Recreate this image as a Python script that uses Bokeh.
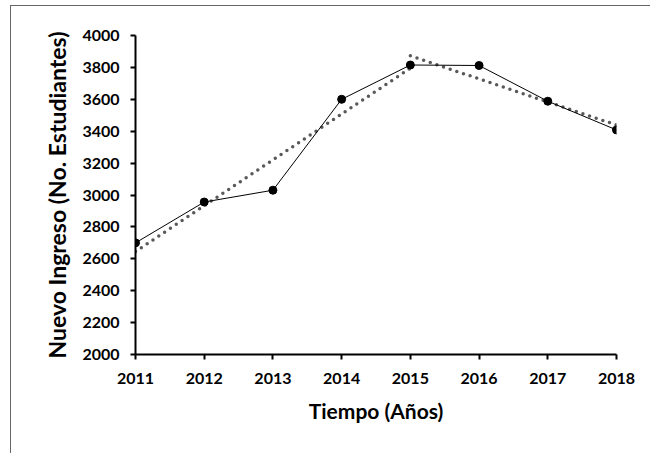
import numpy as np
from bokeh.plotting import figure
from bokeh.models import FixedTicker, ColumnDataSource
from bokeh.embed import file_html
from bokeh.resources import INLINE

years = [2011, 2012, 2013, 2014, 2015, 2016, 2017, 2018]
ingreso = [2700, 2956, 3030, 3600, 3815, 3812, 3588, 3408]
y_ticks = [2000, 2200, 2400, 2600, 2800, 3000, 3200, 3400, 3600, 3800, 4000]

# trend segments: linear fits over 2011-2015 and 2015-2018
seg1_x = years[:5]
seg1_fit = np.polyfit(seg1_x, ingreso[:5], 1)
seg2_x = years[4:]
seg2_fit = np.polyfit(seg2_x, ingreso[4:], 1)
trend1 = ColumnDataSource(dict(x=[seg1_x[0], seg1_x[-1]], y=list(np.polyval(seg1_fit, [seg1_x[0], seg1_x[-1]]))))
trend2 = ColumnDataSource(dict(x=[seg2_x[0], seg2_x[-1]], y=list(np.polyval(seg2_fit, [seg2_x[0], seg2_x[-1]]))))
src = ColumnDataSource(dict(x=years, y=ingreso))

FONT = "Lato"

p = figure(width=640, height=448, x_range=(2011, 2018), y_range=(2000, 4000),
           output_backend="svg", toolbar_location=None,
           min_border_left=124, min_border_right=35, min_border_top=29, min_border_bottom=100)
p.styles = {"margin-left": "10px", "margin-top": "5px",
            "border-left": "1.5px solid #666666", "border-top": "1.5px solid #666666"}
p.outline_line_color = None
p.grid.visible = False
p.background_fill_color = "white"
p.border_fill_color = "white"

for ax in (p.xaxis[0], p.yaxis[0]):
    ax.axis_line_color = "black"
    ax.axis_line_width = 2
    ax.major_tick_line_color = "black"
    ax.major_tick_line_width = 2
    ax.major_tick_out = 5
    ax.major_tick_in = 0
    ax.minor_tick_line_color = None
    ax.major_label_text_font = FONT
    ax.major_label_text_font_style = "bold"
    ax.major_label_text_font_size = "16px"
    ax.major_label_text_color = "black"
    ax.axis_label_text_font = FONT
    ax.axis_label_text_font_style = "bold"
    ax.axis_label_text_color = "black"

p.xaxis.axis_label_text_font_size = "21px"
p.yaxis.axis_label_text_font_size = "23px"
p.xaxis.ticker = FixedTicker(ticks=years)
p.yaxis.ticker = FixedTicker(ticks=y_ticks)
p.xaxis.axis_label = "Tiempo (Años)"
p.yaxis.axis_label = "Nuevo Ingreso (No. Estudiantes)"
p.xaxis.major_label_standoff = 13
p.yaxis.major_label_standoff = 11
p.xaxis.axis_label_standoff = 11
p.yaxis.axis_label_standoff = 8

p.line("x", "y", source=trend1, line_color="#595959", line_width=3.5,
       line_dash="0 7", line_cap="round")
p.line("x", "y", source=trend2, line_color="#595959", line_width=3.5,
       line_dash="0 7", line_cap="round")
p.line("x", "y", source=src, line_color="black", line_width=1)
p.scatter("x", "y", source=src, size=8, fill_color="black", line_color="black")

open("out.html", "w").write(file_html(p, INLINE))
